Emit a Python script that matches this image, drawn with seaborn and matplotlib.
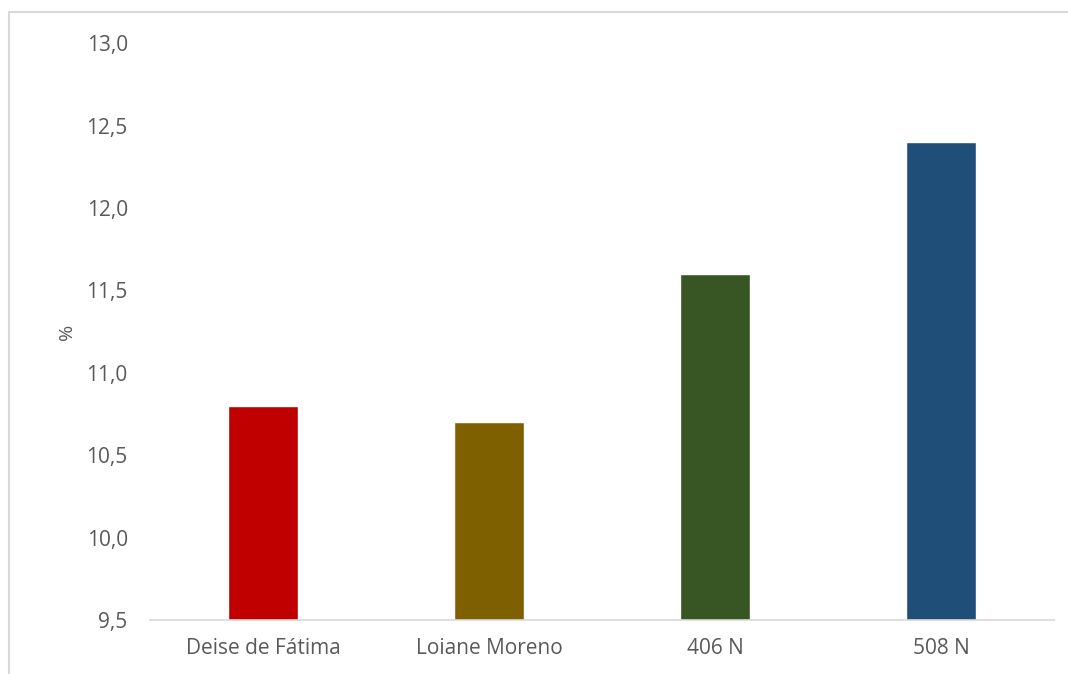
import matplotlib
matplotlib.use("Agg")
import matplotlib.pyplot as plt
import seaborn as sns
import pandas as pd
from matplotlib.lines import Line2D

categories = ["Deise de Fátima", "Loiane Moreno", "406 N", "508 N"]
values = [10.8, 10.7, 11.6, 12.4]
colors = ["#C00000", "#7F6000", "#375623", "#1F4E79"]
yticks = [9.5, 10.0, 10.5, 11.0, 11.5, 12.0, 12.5, 13.0]
ylabel = "%"

sns.set_theme(style="white")
plt.rcParams['font.family'] = ['Open Sans', 'DejaVu Sans']

df = pd.DataFrame({"cat": categories, "val": values})

fig = plt.figure(figsize=(10.68, 6.74), dpi=100)
ax = fig.add_axes([0.1404, 0.080, 0.8466, 0.856])
sns.barplot(data=df, x="cat", y="val", hue="cat", palette=colors, legend=False,
            width=0.307, ax=ax, saturation=1)

ax.set_ylim(9.5, 13.0)
ax.set_xlim(-0.5, 3.5)
ax.set_yticks(yticks)
ax.set_yticklabels([f"{t:.1f}".replace(".", ",") for t in yticks])
ax.set_xlabel("")
ax.set_ylabel(ylabel, color="#595959", fontsize=14)
ax.yaxis.set_label_coords(-0.082, 0.5)
for s in ["top", "right", "left"]:
    ax.spines[s].set_visible(False)
ax.spines["bottom"].set_color("#D9D9D9")
ax.spines["bottom"].set_linewidth(1.2)
ax.tick_params(axis="both", length=0, labelsize=15, colors="#595959")
ax.tick_params(axis="y", pad=16)
ax.tick_params(axis="x", pad=13)

# chart border (top and left visible)
fig.add_artist(Line2D([9/1068, 9/1068], [0, 1 - 12/674], transform=fig.transFigure,
                      color="#D9D9D9", lw=1.5))
fig.add_artist(Line2D([9/1068, 1], [1 - 12/674, 1 - 12/674], transform=fig.transFigure,
                      color="#D9D9D9", lw=1.5))

fig.savefig("out.png", dpi=100)
